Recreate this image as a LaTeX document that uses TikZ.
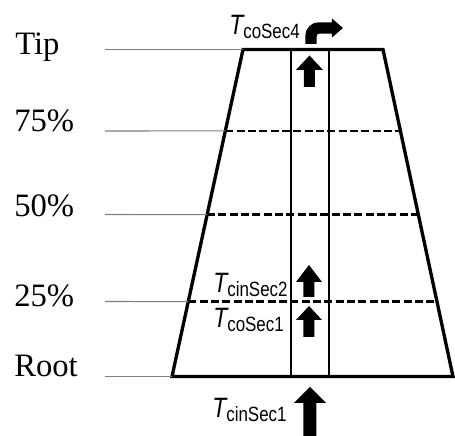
\documentclass[tikz,border=0pt]{standalone}
\usepackage{fontspec}
\setmainfont{Liberation Serif}
\newfontfamily\narrowsans[FakeStretch=0.82]{Liberation Sans}
\usepackage{tikz}
\usetikzlibrary{calc}
\tikzset{
  outline/.style={draw=black, line width=2.5pt, line join=miter},
  channel/.style={draw=black, line width=1.5pt},
  levelcut/.style={draw=black, line width=2pt, dash pattern=on 6pt off 2.5pt},
  leader/.style={draw=gray, line width=0.8pt},
  level/.style={anchor=base west, inner sep=0pt, font=\fontsize{24.5}{28}\selectfont},
  tlabel/.style={anchor=base west, inner sep=0pt},
  blockarrow/.style={fill=black, draw=none},
  bentshaft/.style={draw=black, line width=8.5pt, rounded corners=6pt}
}
\newcommand{\Tsub}[1]{{\narrowsans\fontsize{21}{24}\selectfont\itshape T}\raisebox{-2.3pt}{\narrowsans\fontsize{15.5}{18}\selectfont #1}}
% up arrow: centre x, bottom, head base, tip, half head, half shaft
\newcommand{\uparrowat}[6]{\fill[blockarrow] (#1-#6,#2) -- (#1-#6,#3) -- (#1-#5,#3) -- (#1,#4) -- (#1+#5,#3) -- (#1+#6,#3) -- (#1+#6,#2) -- cycle;}

\begin{document}
\begin{tikzpicture}[x=7.5pt,y=7.5pt]
  \useasboundingbox (0,0) rectangle (45.5,43.6);
  % blade corners
  \coordinate (BL) at (17.2,5.95);
  \coordinate (BR) at (45.3,5.95);
  \coordinate (TR) at (38.3,38.65);
  \coordinate (TL) at (24.3,38.65);
  % span levels
  \coordinate (L25) at ($(BL)!0.229!(TL)$);
  \coordinate (R25) at ($(BR)!0.229!(TR)$);
  \coordinate (L50) at ($(BL)!0.495!(TL)$);
  \coordinate (R50) at ($(BR)!0.495!(TR)$);
  \coordinate (L75) at ($(BL)!0.751!(TL)$);
  \coordinate (R75) at ($(BR)!0.751!(TR)$);
  \draw[levelcut] (L25) -- (R25);
  \draw[levelcut] (L50) -- (R50);
  \draw[levelcut] (L75) -- (R75);
  % cooling channel
  \coordinate (Cab) at (29.15,5.95);
  \coordinate (Cat) at (29.15,38.65);
  \coordinate (Cbb) at (32.95,5.95);
  \coordinate (Cbt) at (32.95,38.65);
  \draw[channel] (Cab) -- (Cat);
  \draw[channel] (Cbb) -- (Cbt);
  \draw[outline] (BL) -- (BR) -- (TR) -- (TL) -- cycle;
  % leaders
  \coordinate (tipS) at (10.5,38.65);
  \coordinate (p75S) at (10.5,30.5);
  \coordinate (p50S) at (10.5,22.15);
  \coordinate (p25S) at (10.5,13.45);
  \coordinate (rootS) at (10.5,5.95);
  \draw[leader] (tipS) -- (TL);
  \draw[leader] (p75S) -- (L75);
  \draw[leader] (p50S) -- (L50);
  \draw[leader] (p25S) -- (L25);
  \draw[leader] (rootS) -- (BL);
  \node[level] (tip) at (1.5,38.1) {Tip};
  \node[level] (p75) at (1.4,30.4) {75\%};
  \node[level] (p50) at (1.4,21.9) {50\%};
  \node[level] (p25) at (1.4,12.9) {25\%};
  \node[level] (root) at (1.4,5.9) {Root};
  % flow arrows
  \uparrowat{30.95}{34.9}{36.6}{38.05}{1.35}{0.55}
  \uparrowat{30.9}{13.9}{15.4}{17.1}{1.3}{0.55}
  \uparrowat{30.9}{9.9}{11.6}{13.0}{1.3}{0.55}
  \uparrowat{31.0}{0}{3.3}{4.9}{1.6}{0.65}
  \coordinate (outA) at (31.1,39.2);
  \coordinate (outB) at (31.1,40.8);
  \coordinate (outC) at (33.3,40.8);
  \draw[bentshaft] (outA) -- (outB) -- (outC);
  \fill[blockarrow] (33.2,39.85) -- (34.3,40.8) -- (33.2,41.75) -- cycle;
  % temperatures
  \node[tlabel] (tco4) at (22.9,40.1) {\Tsub{coSec4}};
  \node[tlabel] (tcin2) at (21.3,14.3) {\Tsub{cinSec2}};
  \node[tlabel] (tco1) at (21.3,10.8) {\Tsub{coSec1}};
  \node[tlabel] (tcin1) at (21.2,1.8) {\Tsub{cinSec1}};
\end{tikzpicture}
\end{document}
